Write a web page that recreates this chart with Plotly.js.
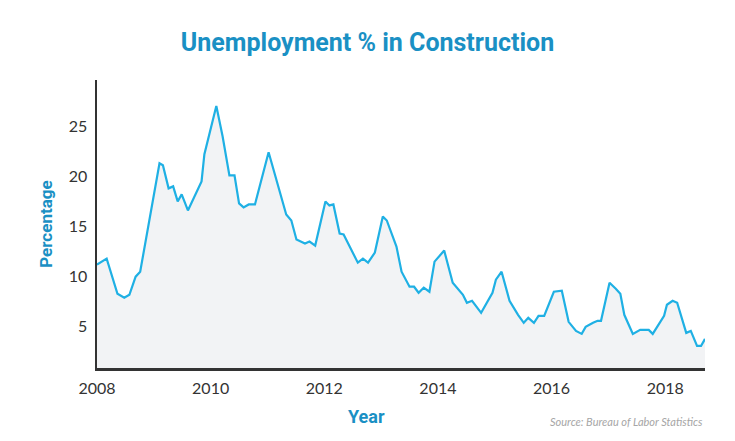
<!DOCTYPE html>
<html>
<head>
<meta charset="utf-8">
<script src="https://cdn.plot.ly/plotly-3.0.1.min.js"></script>
<style>html,body{margin:0;padding:0;background:#fff;}#chart{width:735px;height:441px;}</style>
</head>
<body>
<div id="chart"></div>
<script>
// Decimal year of each vertex
const years = [
  2008.00, 2008.17, 2008.36, 2008.48, 2008.57, 2008.68, 2008.76,
  2009.10, 2009.16, 2009.26, 2009.34, 2009.42, 2009.49, 2009.60, 2009.84, 2009.89,
  2010.10, 2010.21, 2010.33, 2010.42, 2010.50, 2010.58, 2010.67, 2010.78,
  2011.02, 2011.33, 2011.42, 2011.51, 2011.66, 2011.74, 2011.84,
  2012.02, 2012.09, 2012.16, 2012.27, 2012.34, 2012.59, 2012.68, 2012.77, 2012.89,
  2013.03, 2013.10, 2013.27, 2013.36, 2013.50, 2013.58, 2013.66, 2013.75, 2013.85, 2013.94,
  2014.11, 2014.26, 2014.44, 2014.51, 2014.60, 2014.76, 2014.96,
  2015.02, 2015.12, 2015.26, 2015.41, 2015.51, 2015.59, 2015.69, 2015.77, 2015.87,
  2016.04, 2016.18, 2016.30, 2016.43, 2016.53, 2016.60, 2016.73, 2016.81, 2016.87,
  2017.02, 2017.13, 2017.21, 2017.28, 2017.43, 2017.56, 2017.71, 2017.78, 2017.98,
  2018.03, 2018.13, 2018.21, 2018.37, 2018.45, 2018.56, 2018.63, 2018.70
];
// Unemployment rate in construction (%)
const rates = [
  11.2, 11.8, 8.3, 7.9, 8.2, 10.0, 10.5,
  21.3, 21.1, 18.8, 19.0, 17.5, 18.2, 16.6, 19.5, 22.2,
  27.0, 24.0, 20.1, 20.1, 17.3, 16.9, 17.2, 17.2,
  22.4, 16.2, 15.6, 13.7, 13.3, 13.5, 13.1,
  17.5, 17.1, 17.2, 14.3, 14.2, 11.4, 11.8, 11.4, 12.4,
  16.0, 15.6, 13.0, 10.5, 9.0, 9.0, 8.4, 8.9, 8.5, 11.5,
  12.6, 9.4, 8.2, 7.4, 7.6, 6.4, 8.4,
  9.7, 10.5, 7.6, 6.2, 5.4, 5.9, 5.4, 6.1, 6.1,
  8.5, 8.6, 5.5, 4.6, 4.3, 5.0, 5.4, 5.6, 5.6,
  9.4, 8.8, 8.3, 6.2, 4.3, 4.7, 4.7, 4.3, 6.1,
  7.2, 7.6, 7.4, 4.4, 4.6, 3.1, 3.1, 3.8
];
const xTickVals = [2008, 2010, 2012, 2014, 2016, 2018];
const xTickText = ['2008', '2010', '2012', '2014', '2016', '2018'];
const yTickVals = [5, 10, 15, 20, 25];
const yTickText = ['5', '10', '15', '20', '25'];

const blue = '#1a90c4';
const trace = {
  x: years, y: rates, type: 'scatter', mode: 'lines',
  line: {color: '#1fb0e4', width: 2.2},
  fill: 'tozeroy', fillcolor: '#f2f3f5',
  hoverinfo: 'skip'
};
const layout = {
  width: 735, height: 441,
  margin: {l: 97, r: 30, t: 80, b: 73},
  paper_bgcolor: '#ffffff', plot_bgcolor: '#ffffff',
  showlegend: false,
  font: {family: 'Lato, "Open Sans", sans-serif', color: '#333333'},
  title: {
    text: '<b>Unemployment % in Construction</b>',
    font: {family: 'Roboto, sans-serif', size: 25, color: blue},
    x: 0.5, xref: 'container', xanchor: 'center',
    y: 0.905, yref: 'container', yanchor: 'middle'
  },
  xaxis: {
    range: [2008, 2018.7],
    tickvals: xTickVals, ticktext: xTickText,
    showgrid: false, zeroline: false,
    showline: true, linecolor: '#333333', linewidth: 3,
    ticks: '', ticklabelstandoff: 4,
    tickfont: {family: 'Lato, sans-serif', size: 16, color: '#333333'},
    fixedrange: true
  },
  yaxis: {
    range: [0.9, 29.6],
    tickvals: yTickVals, ticktext: yTickText,
    showgrid: false, zeroline: false,
    showline: true, linecolor: '#333333', linewidth: 2.5,
    ticks: '', ticklabelstandoff: 4,
    tickfont: {family: 'Lato, sans-serif', size: 16, color: '#333333'},
    title: {text: '<b>Percentage</b>', font: {family: 'Roboto, sans-serif', size: 17, color: blue}, standoff: 12},
    fixedrange: true
  },
  annotations: [
    {text: '<b>Year</b>', xref: 'paper', yref: 'paper', x: 0.444, y: -0.17,
     xanchor: 'center', yanchor: 'middle', showarrow: false,
     font: {family: 'Roboto, sans-serif', size: 18, color: blue}},
    {text: '<i>Source: Bureau of Labor Statistics</i>', xref: 'paper', yref: 'paper', x: 1, y: -0.185,
     xanchor: 'right', yanchor: 'middle', showarrow: false,
     font: {family: 'Lato, sans-serif', size: 11, color: '#a6a6a6'}}
  ]
};
Plotly.newPlot('chart', [trace], layout, {displayModeBar: false, staticPlot: true});
</script>
</body>
</html>
